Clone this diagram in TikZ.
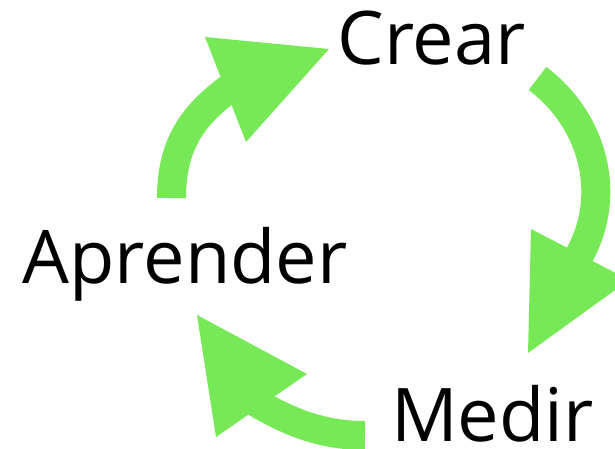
\documentclass[tikz,border=0pt]{standalone}
\usepackage{fontspec}
\setmainfont{Open Sans}
\definecolor{arrowgreen}{RGB}{119,233,87}
\tikzset{
  lbl/.style={anchor=base west, inner sep=0pt, outer sep=0pt, font=\fontsize{74}{80}\selectfont, text=black},
  band/.style={draw=arrowgreen, line width=29pt, line cap=butt},
  headfill/.style={fill=arrowgreen, draw=none}
}
\begin{document}
\begin{tikzpicture}[x=1pt, y=-1pt]
\useasboundingbox (0,0) rectangle (615,449);
% labels
\node[lbl] (crear) at (337.4,64.8) {Crear};
\node[lbl] (aprender) at (22.7,283.4) {Aprender};
\node[lbl] (medir) at (391,441) {Medir};
% arrow 1: Aprender -> Crear
\coordinate (a1s) at (171.5,198);
\coordinate (a1e) at (232,86.3);
\coordinate (h1a) at (205,37);
\coordinate (h1t) at (329,49);
\coordinate (h1b) at (246,142);
\draw[band] (a1s) .. controls (171.5,140) and (197,112) .. (a1e);
\fill[headfill] (h1a) -- (h1t) -- (h1b) -- cycle;
% arrow 2: Crear -> Medir
\coordinate (a2s) at (537.5,78.5);
\coordinate (a2m) at (580,254);
\coordinate (a2e) at (575.5,263);
\coordinate (h2a) at (531,229);
\coordinate (h2b) at (629,280);
\coordinate (h2t) at (528,353);
\draw[band] (a2s) .. controls (592.6,119.8) and (612.8,193.4) .. (a2m) -- (a2e);
\fill[headfill] (h2a) -- (h2b) -- (h2t) -- cycle;
% arrow 3: Medir -> Aprender
\coordinate (a3s) at (365,435.5);
\coordinate (a3e) at (253.4,400.9);
\coordinate (h3a) at (307,374);
\coordinate (h3t) at (197,315);
\coordinate (h3b) at (216,437);
\draw[band] (a3s) .. controls (325,435.5) and (292,424) .. (a3e);
\fill[headfill] (h3a) -- (h3t) -- (h3b) -- cycle;
\end{tikzpicture}
\end{document}
